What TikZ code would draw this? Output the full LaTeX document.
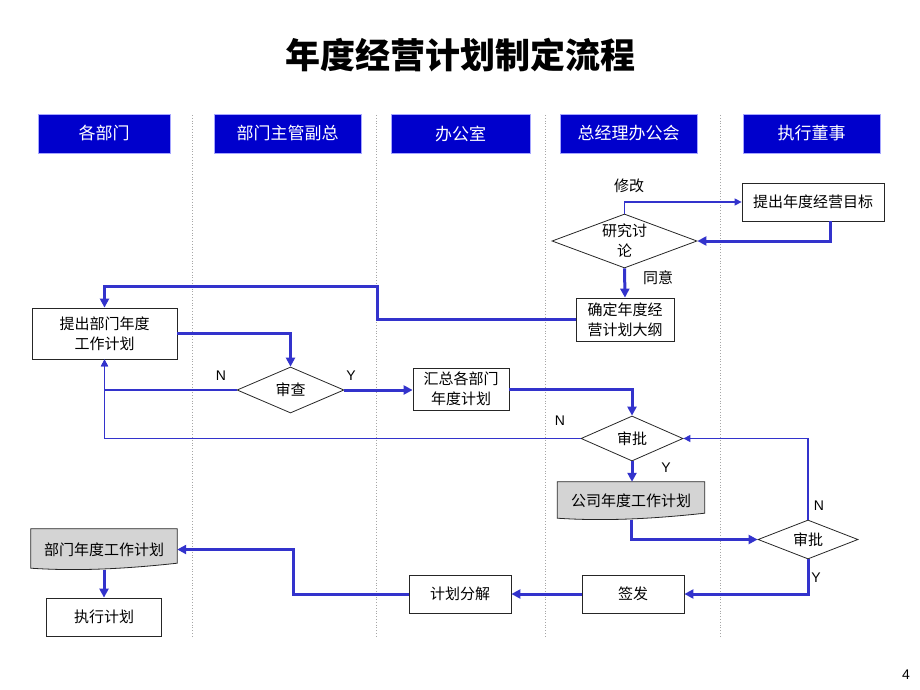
\documentclass[tikz,border=0pt]{standalone}
\usepackage{fontspec}
\setmainfont{Liberation Sans}
\newfontfamily\cjk{Noto Sans CJK SC}
\usetikzlibrary{positioning,shapes.geometric,arrows.meta,backgrounds}
\definecolor{headblue}{RGB}{0,0,204}
\definecolor{flowblue}{RGB}{51,51,204}
\definecolor{docgray}{RGB}{212,212,212}
% document shape with a wavy lower edge, drawn behind a named node
\newcommand{\docpath}[1]{%
  \draw[fill=docgray, draw=black!85, line width=0.8pt] (#1.north west) -- (#1.north east)
    -- ([yshift=7pt]#1.south east) .. controls +(-55,6) and +(45,3) .. ([yshift=2pt]#1.south west) -- cycle;}

\begin{document}
\begin{tikzpicture}[x=1pt, y=-1pt,
  lane/.style={draw=gray!70, dotted, line width=0.8pt},
  hd/.style={rectangle, fill=headblue, draw=blue!35, line width=0.8pt, text=white, minimum height=39, inner sep=0pt, font=\cjk\fontsize{17}{20}\selectfont},
  flow/.style={draw=flowblue, line width=3pt, -{Triangle[length=9pt,width=9pt]}},
  back/.style={draw=flowblue, line width=1.3pt, -{Triangle[length=7pt,width=7pt]}}]
\tikzstyle{box}=[rectangle, draw=black!85, line width=0.8pt, align=center, inner sep=0pt, font=\cjk\fontsize{15}{20}\selectfont]
\tikzstyle{dec}=[diamond, shape aspect=2.7, draw=black!85, line width=0.8pt, align=center, inner sep=0pt, font=\cjk\fontsize{15}{20}\selectfont]
\tikzstyle{doc}=[rectangle, align=center, inner sep=0pt, font=\cjk\fontsize{15}{20}\selectfont]
\tikzstyle{lbl}=[inner sep=0pt, font=\cjk\fontsize{15}{18}\selectfont]
\tikzstyle{yn}=[inner sep=0pt, font=\fontsize{14}{16}\selectfont]
\useasboundingbox (0,0) rectangle (920,690);
\node[font=\cjk\bfseries\fontsize{35}{40}\selectfont] (title) at (460,55) {年度经营计划制定流程};
\foreach \x in {192,376,545,720}{\draw[lane] (\x,115) -- (\x,636);}
\foreach \n/\x/\w/\t in {h1/104/132/各部门, h2/287.5/147/部门主管副总, h3/460.5/139/办公室, h4/628.5/137/总经理办公会, h5/811.5/137/执行董事}{\node[hd, minimum width=\w] (\n) at (\x,133.5) {\t};}
\node[box, minimum width=142, minimum height=38] (goal) at (813,202) {提出年度经营目标};
\node[dec, minimum width=145, minimum height=54] (disc) at (624.5,241) {研究讨\\论};
\node[box, minimum width=98, minimum height=43] (outl) at (625,319.5) {确定年度经\\营计划大纲};
\node[box, minimum width=145, minimum height=51] (dplan) at (104.5,333.5) {提出部门年度\\工作计划};
\node[dec, minimum width=107, minimum height=46] (chk) at (290.5,390) {审查};
\node[box, minimum width=96, minimum height=42] (summ) at (461,389) {汇总各部门\\年度计划};
\node[dec, minimum width=102, minimum height=45] (ap1) at (632,438.5) {审批};
\node[doc, minimum width=147, minimum height=38] (corp) at (631,501) {公司年度工作计划};
\node[dec, minimum width=100, minimum height=39] (ap2) at (808,539.5) {审批};
\node[box, minimum width=102, minimum height=38] (sign) at (633,594) {签发};
\node[box, minimum width=102, minimum height=38] (split) at (460,594) {计划分解};
\node[doc, minimum width=146, minimum height=41] (ddoc) at (104,549.5) {部门年度工作计划};
\node[box, minimum width=115, minimum height=38] (exec) at (104,617) {执行计划};
\begin{scope}[on background layer]
\docpath{corp}
\docpath{ddoc}
\end{scope}
\node[lbl] (mod) at (629,186) {修改};
\node[lbl] (agr) at (658,278) {同意};
\node[yn] (n1) at (221,376) {N};
\node[yn] (y1) at (351,376) {Y};
\node[yn] (n2) at (560,421) {N};
\node[yn] (y2) at (666,468) {Y};
\node[yn] (n3) at (819,506) {N};
\node[yn] (y3) at (816,578) {Y};
\node[font=\fontsize{14}{16}\selectfont] (pg) at (906,675) {4};
\draw[back] (disc.north) |- (goal.west);
\draw[flow] ([xshift=17pt]goal.south) |- (disc.east);
\draw[flow] (disc.south) -- (outl.north);
\draw[flow] (outl.west) -| (377,286) -| (dplan.north);
\draw[flow] (dplan.east) -| (chk.north);
\draw[back] (chk.west) -| (dplan.south);
\draw[flow] (chk.east) -- (chk.east -| summ.west);
\draw[flow] (summ.east) -| (ap1.north);
\draw[back] (ap1.west) -| (dplan.south);
\draw[flow] (ap1.south) -- (ap1.south |- corp.north);
\draw[flow] (corp.south) |- (ap2.west);
\draw[back] (ap2.north) |- (ap1.east);
\draw[flow] (ap2.south) |- (sign.east);
\draw[flow] (sign.west) -- (split.east);
\draw[flow] (split.west) -| (293,549.5) -- (ddoc.east);
\draw[flow] (ddoc.south) -- (exec.north);
\end{tikzpicture}
\end{document}
